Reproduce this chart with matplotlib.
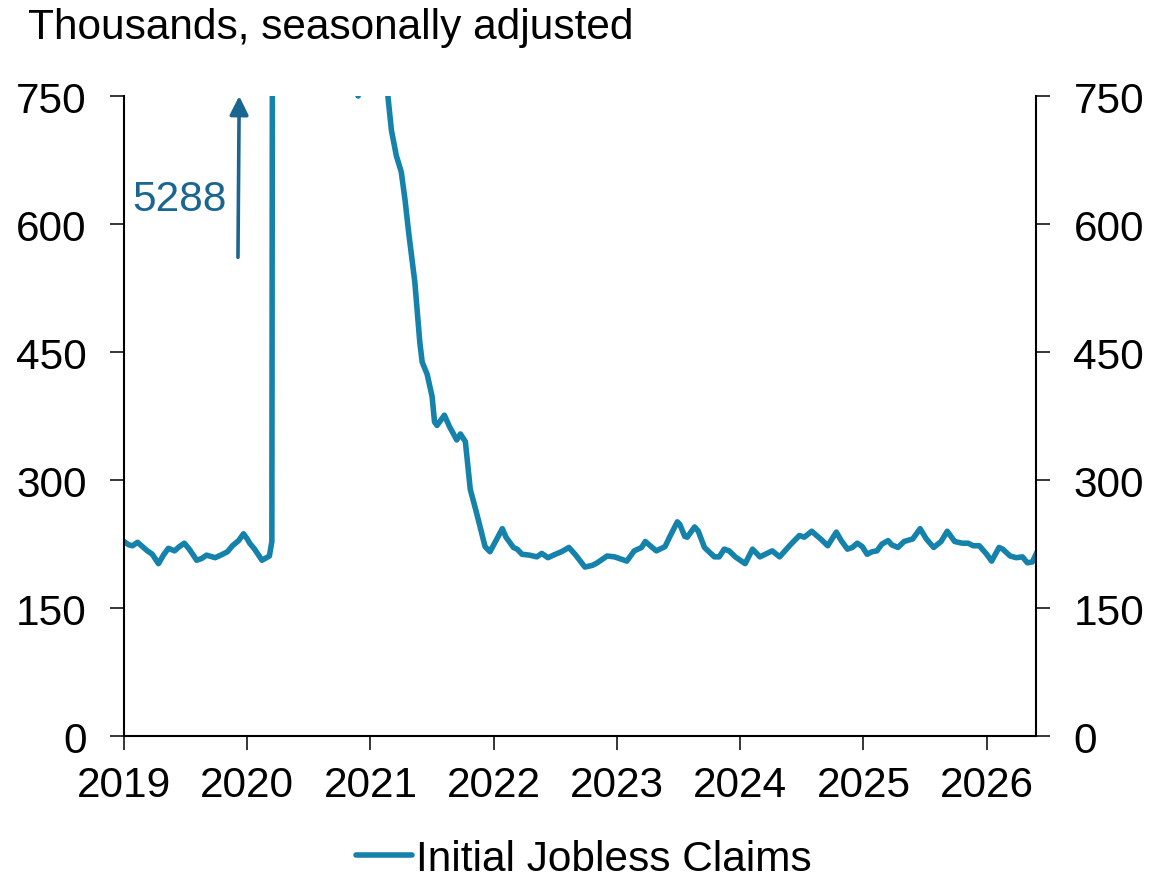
import matplotlib.pyplot as plt

plt.rcParams['font.family'] = ['Liberation Sans', 'DejaVu Sans']

# weekly initial claims (thousands, SA), x in decimal years
years = [
    2019.00, 2019.04, 2019.07, 2019.11, 2019.15, 2019.19, 2019.23, 2019.28, 2019.32, 2019.36,
    2019.41, 2019.45, 2019.49, 2019.53, 2019.59, 2019.63, 2019.67, 2019.74, 2019.80, 2019.84,
    2019.88, 2019.93, 2019.97, 2020.00, 2020.02, 2020.06, 2020.12, 2020.18, 2020.20, 2020.22,
    2020.24, 2020.26, 2020.30, 2020.35, 2020.42, 2020.50, 2020.60, 2020.70, 2020.80, 2020.86,
    2020.90, 2020.94, 2021.00, 2021.05, 2021.10, 2021.14, 2021.17, 2021.21, 2021.25, 2021.28,
    2021.31, 2021.34, 2021.36, 2021.40, 2021.42, 2021.46, 2021.50, 2021.52, 2021.54, 2021.60,
    2021.64, 2021.70, 2021.73, 2021.77, 2021.81, 2021.86, 2021.93, 2021.97, 2022.07, 2022.10,
    2022.16, 2022.19, 2022.23, 2022.29, 2022.35, 2022.39, 2022.44, 2022.50, 2022.55, 2022.61,
    2022.66, 2022.74, 2022.80, 2022.84, 2022.92, 2022.98, 2023.08, 2023.14, 2023.20, 2023.23,
    2023.27, 2023.32, 2023.39, 2023.43, 2023.49, 2023.51, 2023.55, 2023.57, 2023.63, 2023.66,
    2023.71, 2023.79, 2023.83, 2023.87, 2023.91, 2023.96, 2024.04, 2024.10, 2024.16, 2024.26,
    2024.32, 2024.40, 2024.48, 2024.52, 2024.58, 2024.66, 2024.71, 2024.78, 2024.82, 2024.87,
    2024.91, 2024.95, 2024.99, 2025.03, 2025.07, 2025.11, 2025.15, 2025.20, 2025.23, 2025.28,
    2025.33, 2025.40, 2025.46, 2025.51, 2025.57, 2025.63, 2025.68, 2025.74, 2025.80, 2025.85,
    2025.89, 2025.94, 2026.00, 2026.04, 2026.10, 2026.13, 2026.19, 2026.24, 2026.29, 2026.33,
    2026.37, 2026.41,
]
claims = [
    228, 224, 223, 227, 222, 217, 213, 202, 212, 220,
    217, 222, 226, 219, 206, 208, 212, 209, 213, 216,
    223, 229, 237, 231, 226, 219, 206, 211, 228, 2900,
    4300, 5288, 4800, 3800, 2600, 1700, 1250, 950, 820, 775,
    750, 780, 830, 840, 790, 752, 710, 680, 661, 629,
    590, 555, 532, 462, 438, 424, 398, 368, 364, 376,
    363, 347, 354, 345, 289, 262, 222, 216, 243, 233,
    221, 219, 213, 212, 210, 214, 209, 213, 216, 221,
    213, 198, 200, 203, 211, 210, 205, 217, 221, 228,
    223, 217, 222, 234, 251, 248, 234, 233, 245, 240,
    221, 210, 210, 219, 217, 210, 202, 219, 210, 217,
    210, 223, 235, 233, 240, 230, 223, 239, 229, 219,
    221, 226, 222, 213, 216, 217, 225, 229, 224, 221,
    228, 231, 243, 231, 221, 228, 240, 228, 226, 226,
    223, 223, 213, 205, 221, 219, 211, 209, 210, 203,
    204, 216,
]

peak_label = '5288'
year_ticks = [2019, 2020, 2021, 2022, 2023, 2024, 2025, 2026]
value_ticks = [0, 150, 300, 450, 600, 750]

line_color = '#1482AA'
note_color = '#1B6690'
fs = 30.5

fig = plt.figure(figsize=(11.75, 8.79), dpi=100)
ax = fig.add_axes([0.1055, 0.1615, 0.7762, 0.7281])

ax.plot(years, claims, color=line_color, lw=4.0, solid_joinstyle='round',
        solid_capstyle='round', label='Initial Jobless Claims')

ax.set_xlim(2019.0, 2026.40)
ax.set_ylim(0, 750)
ax.set_xticks(year_ticks)
ax.set_xticklabels([str(y) for y in year_ticks])
ax.set_yticks(value_ticks)

# arrow + label for the off-scale peak
ax.annotate('', xy=(2019.935, 750), xytext=(2019.925, 561),
            arrowprops=dict(arrowstyle='-|>', color=note_color, lw=2.6,
                            mutation_scale=28, shrinkA=0, shrinkB=0),
            annotation_clip=False)
ax.text(2019.454, 629, peak_label, color=note_color, fontsize=fs,
        ha='center', va='center')

ax.spines['top'].set_visible(False)
for s in ['left', 'right', 'bottom']:
    ax.spines[s].set_linewidth(1.5)

ax.yaxis.set_ticks_position('both')
ax.tick_params(axis='y', which='major', direction='out', length=10, width=1.1,
               labelsize=fs, pad=17, labelright=True)
ax.tick_params(axis='x', which='major', direction='out', length=10, width=1.1,
               labelsize=fs, pad=11)

fig.text(28 / 1175, 1 - 39 / 879, 'Thousands, seasonally adjusted',
         fontsize=fs, ha='left', va='baseline')

fig.legend(loc='center', bbox_to_anchor=(0.497, 0.022), frameon=False,
           fontsize=fs, handlelength=1.32, handletextpad=0.1)

fig.savefig('out.png', dpi=100)
